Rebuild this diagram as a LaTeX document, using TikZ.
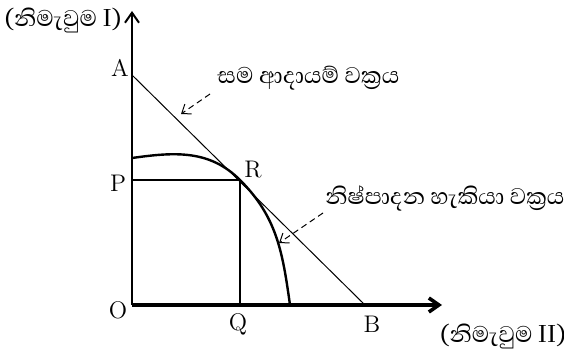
\documentclass[tikz,border=0pt]{standalone}
\usepackage{fontspec}
\newfontfamily\sinhalafont[Script=Sinhala]{Abhaya Libre}
\usetikzlibrary{arrows.meta}

\begin{document}
\begin{tikzpicture}[x=0.5pt, y=0.5pt, font=\large,
  lbl/.style={inner sep=0pt},
  sinh/.style={inner sep=0pt, font=\sinhalafont\fontsize{14.5}{17}\selectfont},
  leader/.style={densely dashed, line width=0.5pt, -{Straight Barb[length=4pt, width=6pt]}}]

\useasboundingbox (0,0) rectangle (564,349);

% points on the axes
\coordinate (origin) at (132,44);
\coordinate (ytop) at (132,338);
\coordinate (xend) at (442,44);
\coordinate (pointA) at (132,274);
\coordinate (pointR) at (240,169);
\coordinate (pointB) at (365,44);
\coordinate (pointP) at (132,169);
\coordinate (pointQ) at (240,44);
\coordinate (ppcStart) at (132,191);
\coordinate (ppcEnd) at (290,44);

% axes
\draw[line width=1pt, -{Straight Barb[length=5pt, width=7pt]}] (origin) -- (ytop);
\draw[line width=1.8pt, -{Straight Barb[length=5pt, width=7pt]}] (origin) -- (xend);

% iso-revenue line
\draw[line width=0.5pt] (pointA) -- (pointB);

% production possibility curve
\draw[line width=1.2pt] (ppcStart) to[out=8, in=135] (pointR) to[out=-45, in=98] (ppcEnd);

% R to the axes
\draw[line width=0.8pt] (pointP) -- (pointR) -- (pointQ);

% labels
\node[lbl] (labelA) at (120,281) {A};
\node[lbl] (labelP) at (118,166) {P};
\node[lbl] (labelR) at (253,179) {R};
\node[lbl] (labelO) at (118,39) {O};
\node[lbl] (labelQ) at (238,25) {Q};
\node[lbl] (labelB) at (372,25) {B};

\node[sinh] (outputOne) at (63,329) {(නිමැවුම I)};
\node[sinh] (outputTwo) at (503,13) {(නිමැවුම II)};
\node[sinh, anchor=west] (isoRevenue) at (217,271) {සම ආදායම් වක්^^^^200dරය};
\node[sinh, anchor=west] (ppcText) at (325,151) {නිෂ්පාදන හැකියා වක්^^^^200dරය};

% leaders
\coordinate (isoFrom) at (210,255);
\coordinate (isoTip) at (181,235);
\coordinate (ppcFrom) at (323,136);
\coordinate (ppcTip) at (279,106);
\draw[leader] (isoFrom) -- (isoTip);
\draw[leader] (ppcFrom) -- (ppcTip);

\end{tikzpicture}
\end{document}
